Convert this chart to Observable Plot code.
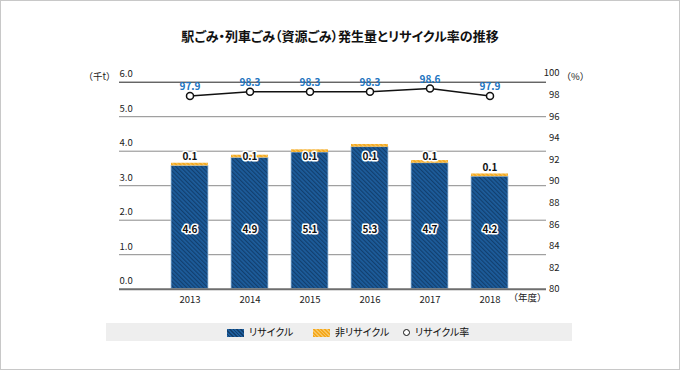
<!DOCTYPE html>
<html lang="ja">
<head>
<meta charset="utf-8">
<script src="https://cdn.jsdelivr.net/npm/d3@7"></script>
<script src="https://cdn.jsdelivr.net/npm/@observablehq/plot@0.6"></script>
<style>
  html, body { margin: 0; padding: 0; background: #fff; }
  body { font-family: "Noto Sans CJK JP", "Noto Sans", sans-serif; }
  #wrap { position: relative; width: 680px; height: 370px; overflow: hidden; }
  #wrap svg { position: absolute; left: 0; top: 0; }
  #frame { position: absolute; left: 0; top: 0; width: 680px; height: 370px; box-sizing: border-box; border: 1px solid #c8c8c8; pointer-events: none; }
  #title { position: absolute; left: 0; top: 26px; width: 680px; text-align: center; font-size: 13px; font-weight: bold; color: #111; font-feature-settings: "palt"; line-height: 20px; }
  #legend { position: absolute; left: 106px; top: 323px; width: 466px; height: 18px; background: #eeeeee; font-size: 10px; color: #111; font-feature-settings: "palt"; }
  .sw { position: absolute; top: 6px; width: 17px; height: 8px; }
  .lt { position: absolute; top: 0; line-height: 18px; white-space: nowrap; }
  .circ { position: absolute; top: 5.5px; width: 5px; height: 5px; border: 1.5px solid #111; border-radius: 50%; background: #fff; }
</style>
</head>
<body>
<div id="wrap">
  <div id="chart"></div>
  <div id="title"></div>
  <div id="legend"></div>
  <div id="frame"></div>
</div>
<script>
// ---- data ----
const title = "駅ごみ・列車ごみ（資源ごみ）発生量とリサイクル率の推移";
const years = ["2013", "2014", "2015", "2016", "2017", "2018"];
const recycle = [4.6, 4.9, 5.1, 5.3, 4.7, 4.2];      // 千t
const nonRecycle = [0.1, 0.1, 0.1, 0.1, 0.1, 0.1];   // 千t
const rate = [97.9, 98.3, 98.3, 98.3, 98.6, 97.9];   // %
const leftTickLabels = ["0.0", "1.0", "2.0", "3.0", "4.0", "5.0", "6.0"];
const rightTicks = [80, 82, 84, 86, 88, 90, 92, 94, 96, 98, 100];
const seriesNames = ["リサイクル", "非リサイクル", "リサイクル率"];
const unitLeft = "（千t）", unitRight = "（%）", unitX = "（年度）";

// ---- scale setup (reference draws bars at 26.8px/千t, grid every 34.5px) ----
const yTop = 7.724;                       // bar units at top grid line
const gridStep = yTop / 6;
const gridTicks = d3.range(7).map(i => i * gridStep);
const rateY = v => (v - 80) * 0.4026;     // right axis (%) -> bar units

const rows = years.map((y, i) => ({
  year: y, rec: recycle[i], non: nonRecycle[i], total: recycle[i] + nonRecycle[i], rate: rate[i]
}));

const fontSize = 9.5;
const chart = Plot.plot({
  width: 680,
  height: 370,
  marginLeft: 119,
  marginRight: 134,
  marginTop: 81.7,
  marginBottom: 81.3,
  style: { fontFamily: '"Noto Sans CJK JP", "Noto Sans", sans-serif', fontSize: fontSize + "px", color: "#222", background: "transparent" },
  x: { type: "band", domain: years, range: [158.6, 519.8], paddingInner: 0.38, paddingOuter: 0.19, label: null },
  y: { domain: [0, yTop], label: null },
  marks: [
    Plot.ruleY(gridTicks.slice(1, 6), { stroke: "#8a8a8a", strokeWidth: 1 }),
    Plot.barY(rows, { x: "year", y1: 0, y2: "rec", fill: "url(#hatchBlue)", stroke: "#a9c6e2", strokeWidth: 0.8 }),
    Plot.barY(rows, { x: "year", y1: "rec", y2: "total", fill: "url(#hatchOrange)" }),
    Plot.ruleY([gridTicks[6]], { stroke: "#222", strokeWidth: 1 }),
    Plot.ruleY([0], { stroke: "#6e6e6e", strokeWidth: 2 }),
    Plot.axisY({ ticks: gridTicks, tickFormat: d => leftTickLabels[Math.round(d / gridStep)], tickSize: 0, tickPadding: 0, textAnchor: "start", dy: -8, fontSize: fontSize, label: null }),
    Plot.axisX({ tickSize: 0, tickPadding: 7, fontSize: fontSize, label: null }),
    Plot.text(rightTicks, { y: d => rateY(d), text: d => String(d), frameAnchor: "right", textAnchor: "end", dx: 13, fontSize: fontSize, fill: "#222" }),
    Plot.text([unitLeft], { frameAnchor: "top-left", textAnchor: "end", dx: -4, dy: -9, fontSize: fontSize, fill: "#222" }),
    Plot.text([unitRight], { frameAnchor: "top-right", textAnchor: "start", dx: 15, dy: -9, fontSize: fontSize, fill: "#222" }),
    Plot.text([unitX], { frameAnchor: "bottom-right", textAnchor: "end", dx: 0, dy: 12, fontSize: fontSize, fill: "#222" }),
    // value labels
    Plot.text(rows, { x: "year", frameAnchor: "bottom", dy: -56, text: d => d.rec.toFixed(1), fill: "#111", stroke: "white", strokeWidth: 3, fontWeight: "bold", fontSize: 10 }),
    Plot.text(rows, { x: "year", y: d => Math.min(d.total + 0.24, 4.93), text: d => d.non.toFixed(1), fill: "#111", stroke: "white", strokeWidth: 3, fontWeight: "bold", fontSize: 10 }),
    // recycle rate line
    Plot.line(rows, { x: "year", y: d => rateY(d.rate), stroke: "#111", strokeWidth: 1.5 }),
    Plot.dot(rows, { x: "year", y: d => rateY(d.rate), r: 3.5, fill: "white", stroke: "#111", strokeWidth: 1.5 }),
    Plot.text(rows, { x: "year", y: d => rateY(d.rate), dy: -9, text: d => d.rate.toFixed(1), fill: "#2174c0", fontWeight: "bold", fontSize: 10 })
  ]
});

// hatch patterns
const defs = d3.select(chart).insert("defs", ":first-child");
const pb = defs.append("pattern").attr("id", "hatchBlue").attr("patternUnits", "userSpaceOnUse")
  .attr("width", 3).attr("height", 3).attr("patternTransform", "rotate(-45)");
pb.append("rect").attr("width", 3).attr("height", 3).attr("fill", "#1d5d9c");
pb.append("rect").attr("width", 1.2).attr("height", 3).attr("fill", "#123f6e");
const po = defs.append("pattern").attr("id", "hatchOrange").attr("patternUnits", "userSpaceOnUse")
  .attr("width", 3).attr("height", 3).attr("patternTransform", "rotate(-45)");
po.append("rect").attr("width", 3).attr("height", 3).attr("fill", "#f4a81d");
po.append("rect").attr("width", 1.2).attr("height", 3).attr("fill", "#f8c561");

document.getElementById("chart").appendChild(chart);
document.getElementById("title").textContent = title;

const legend = document.getElementById("legend");
legend.innerHTML = `
  <div class="sw" style="left:121px;background:repeating-linear-gradient(45deg,#1d5d9c 0 1.6px,#123f6e 1.6px 2.6px)"></div>
  <div class="lt" style="left:143px">${seriesNames[0]}</div>
  <div class="sw" style="left:207px;background:repeating-linear-gradient(45deg,#f4a81d 0 1.6px,#f8c561 1.6px 2.6px)"></div>
  <div class="lt" style="left:229px">${seriesNames[1]}</div>
  <div class="circ" style="left:297px"></div>
  <div class="lt" style="left:309px">${seriesNames[2]}</div>`;
</script>
</body>
</html>
